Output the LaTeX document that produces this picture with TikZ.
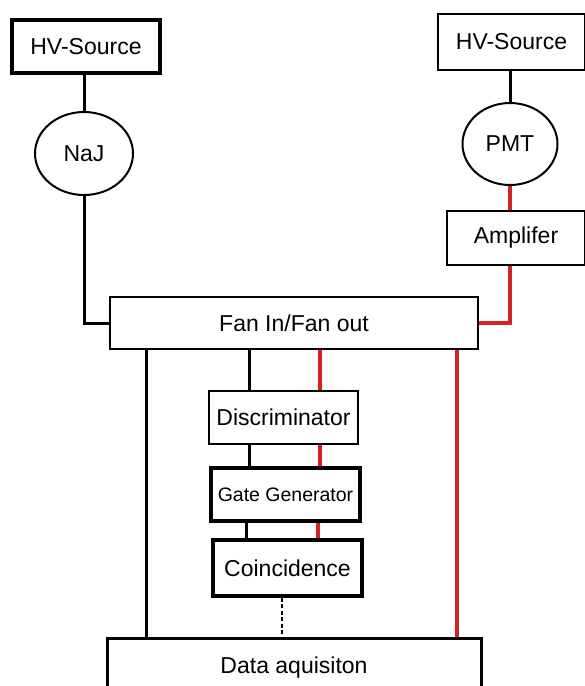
\documentclass[tikz,border=0pt]{standalone}
\usepackage{fontspec}
\setmainfont{Liberation Sans}
\usetikzlibrary{shapes.geometric}
\definecolor{sigred}{RGB}{210,36,36}
\tikzset{
  unitbox/.style={draw,rectangle,inner sep=0pt,line width=2.2pt,font=\fontsize{23}{25}\selectfont},
  heavybox/.style={unitbox,line width=3.2pt},
  detector/.style={draw,ellipse,inner sep=0pt,line width=2pt,font=\fontsize{23}{25}\selectfont},
  blackline/.style={line width=3pt},
  redline/.style={line width=3.2pt,draw=sigred}
}
\begin{document}
\begin{tikzpicture}[x=1pt,y=-1pt]

        \useasboundingbox (0,0) rectangle (585,686);

        \begin{scope}[every node/.style={unitbox}]
          \node[heavybox,minimum width=148,minimum height=53] (hvl)  at (86,46.5)   {HV-Source};
          \node[line width=2.6pt,minimum width=147,minimum height=56] (hvr)  at (511.5,42) {HV-Source};
          \node[minimum width=138,minimum height=54] (amp)  at (516,238)   {Amplifer};
          \node[minimum width=368,minimum height=52] (fan)  at (294,323)   {Fan In/Fan out};
          \node[minimum width=149,minimum height=53] (disc) at (283.5,417.5) {Discriminator};
          \node[heavybox,minimum width=149,minimum height=53,font=\fontsize{19.5}{21}\selectfont] (gate) at (285.5,494.5) {Gate Generator};
          \node[heavybox,minimum width=149,minimum height=56] (coin) at (287.5,568) {Coincidence};
          \node[heavybox,line width=3pt,minimum width=374,minimum height=60] (daq)  at (294,668) {Data aquisiton};
        \end{scope}

        \begin{scope}[every node/.style={detector}]
          \node[minimum width=98,minimum height=83] (naj) at (84,153.5) {NaJ};
          \node[minimum width=95,minimum height=82] (pmt) at (510,144)  {PMT};
        \end{scope}

        % detector side
        \draw[blackline] (hvl.south -| naj) -- (naj.north);
        \draw[blackline] (naj.south) |- (fan.west);
        \draw[blackline] (hvr.south -| pmt) -- (pmt.north);
        \draw[redline] (pmt.south) -- (pmt.south |- amp.north);
        \draw[redline] (amp.south -| pmt) |- (fan.east);

        % electronics
        \draw[blackline] (fan.south -| 146,0) -- (daq.north -| 146,0);
        \draw[redline] (fan.south -| 457,0) -- (daq.north -| 457,0);
        \draw[blackline] (fan.south -| 249,0) -- (disc.north -| 249,0);
        \draw[redline] (fan.south -| 320,0) -- (disc.north -| 320,0);
        \draw[blackline] (disc.south -| 249,0) -- (gate.north -| 249,0);
        \draw[redline] (disc.south -| 320,0) -- (gate.north -| 320,0);
        \draw[blackline] (gate.south -| 246,0) -- (coin.north -| 246,0);
        \draw[redline] (gate.south -| 318,0) -- (coin.north -| 318,0);
        \draw[blackline,line width=2.4pt,dash pattern=on 4pt off 2.5pt] (coin.south -| 282,0) -- (daq.north -| 282,0);

      \end{tikzpicture}
\end{document}
